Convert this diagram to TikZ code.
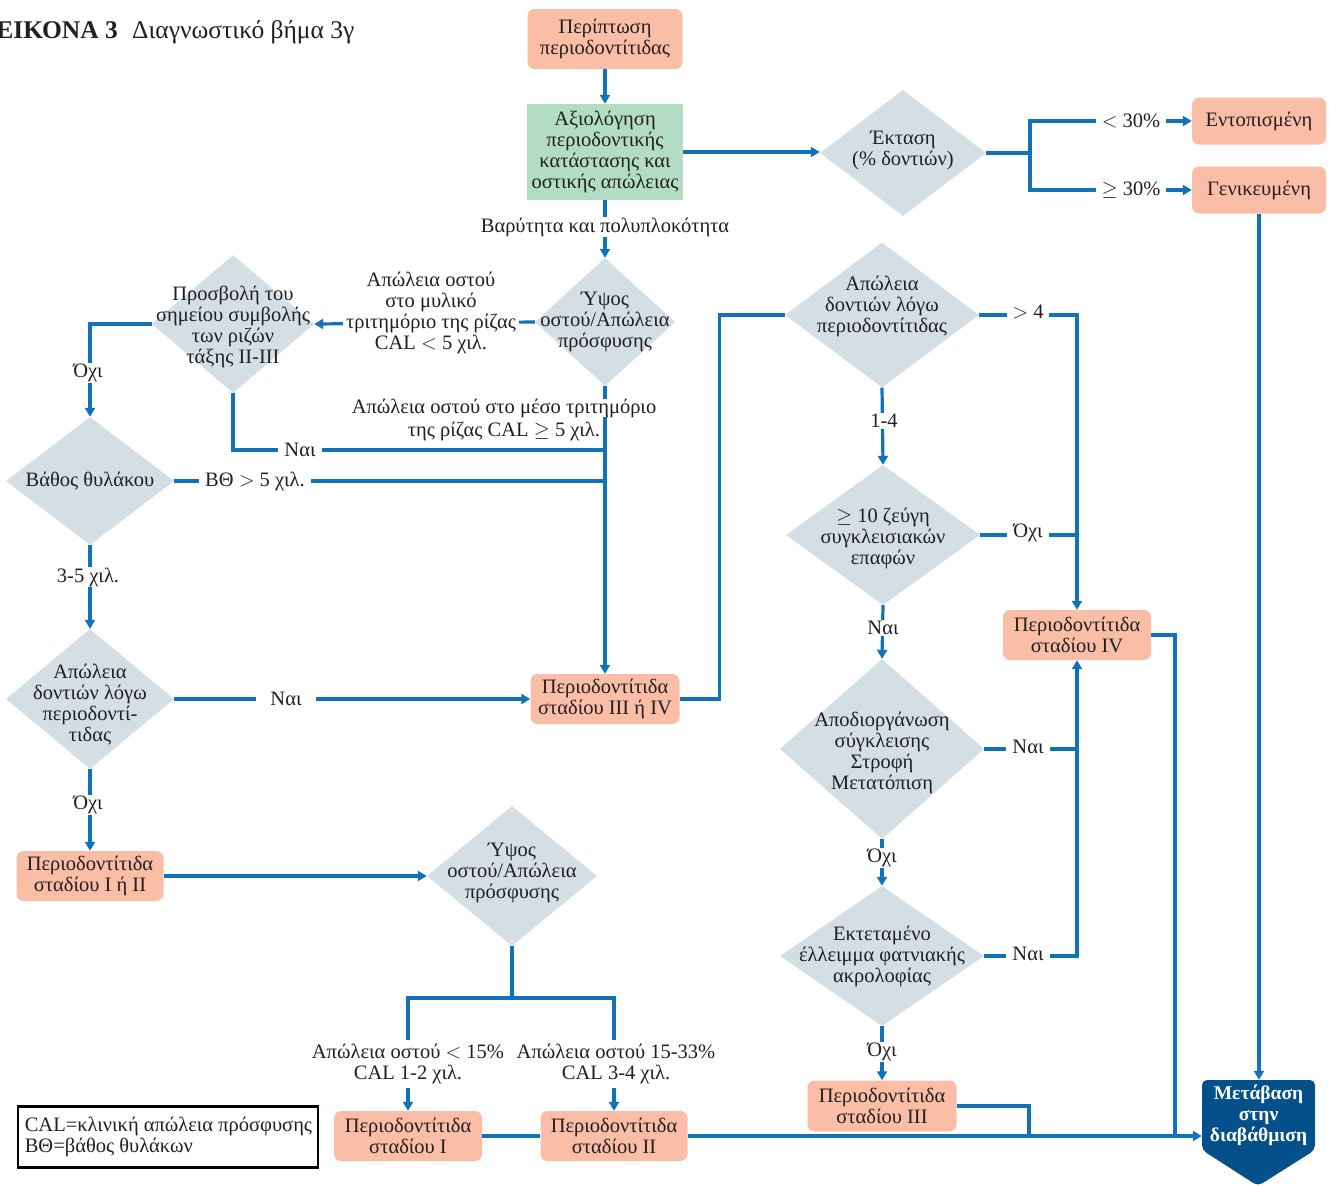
\documentclass[tikz,border=0pt]{standalone}
\usepackage{fontspec}
\setmainfont{Liberation Serif}
\usetikzlibrary{arrows.meta,shapes.geometric,calc}
\definecolor{salmon}{RGB}{249,190,165}
\definecolor{mint}{RGB}{179,221,195}
\definecolor{diagray}{RGB}{211,222,229}
\definecolor{flowblue}{RGB}{16,114,186}
\definecolor{navy}{RGB}{3,80,138}
\definecolor{ink}{RGB}{35,31,32}
\begin{document}
\begin{tikzpicture}[x=1pt,y=-1pt,
  every node/.style={font=\fontsize{20.5}{21}\selectfont, text=ink},
  stagebox/.style={fill=salmon, rounded corners=7pt, align=center, inner sep=0pt},
  assess/.style={fill=mint, align=center, inner sep=0pt},
  dia/.style={shape=diamond, fill=diagray, inner sep=0pt},
  dtext/.style={align=center, inner sep=0pt},
  lbl/.style={fill=white, inner xsep=6pt, inner ysep=1pt, align=center},
  line/.style={draw=flowblue, line width=3.2pt},
  arr/.style={line, -{Triangle[length=9pt,width=10pt]}}
]
\useasboundingbox (0,0) rectangle (1329,1186);

% title
\node[anchor=base east, inner sep=0pt, font=\fontsize{25.5}{28}\selectfont\bfseries] (ttl1) at (118,38) {ΕΙΚΟΝΑ 3};
\node[anchor=base west, inner sep=0pt, font=\fontsize{25.5}{28}\selectfont] (ttl2) at (132,38) {Διαγνωστικό βήμα 3γ};

% boxes
\node[stagebox, minimum width=155, minimum height=60] (start) at (605,39) {Περίπτωση\\περιοδοντίτιδας};
\node[assess, minimum width=156, minimum height=96] (eval) at (605,152) {Αξιολόγηση\\περιοδοντικής\\κατάστασης και\\οστικής απώλειας};
\node[stagebox, minimum width=134, minimum height=47] (loc) at (1259,121) {Εντοπισμένη};
\node[stagebox, minimum width=134, minimum height=47] (gen) at (1259,190) {Γενικευμένη};
\node[stagebox, minimum width=149, minimum height=50] (s34) at (605,699) {Περιοδοντίτιδα\\σταδίου ΙΙΙ ή ΙV};
\node[stagebox, minimum width=147, minimum height=50] (s12) at (90,876) {Περιοδοντίτιδα\\σταδίου Ι ή ΙΙ};
\node[stagebox, minimum width=148, minimum height=50] (s1) at (408,1136) {Περιοδοντίτιδα\\σταδίου Ι};
\node[stagebox, minimum width=147, minimum height=50] (s2) at (614,1136) {Περιοδοντίτιδα\\σταδίου ΙΙ};
\node[stagebox, minimum width=149, minimum height=51] (s3) at (882,1106) {Περιοδοντίτιδα\\σταδίου ΙΙΙ};
\node[stagebox, minimum width=148, minimum height=50] (s4) at (1077,635) {Περιοδοντίτιδα\\σταδίου ΙV};

% final pointer box
\fill[navy, rounded corners=5pt] (1202,1080) -- (1315,1080) -- (1315,1150) -- (1258,1186) -- (1202,1150) -- cycle;
\node[align=center, inner sep=0pt, minimum width=113, minimum height=70, text=white,
      font=\fontsize{19.5}{21}\selectfont\bfseries] (next) at (1258.5,1115) {Μετάβαση\\στην\\διαβάθμιση};

% decisions
\node[dia, minimum width=166, minimum height=126] (ext) at (903,153) {};
\node[dtext] (ext-t) at ([yshift=3pt]ext) {Έκταση\\(\% δοντιών)};
\node[dia, minimum width=140, minimum height=128] (bone1) at (605,322) {};
\node[dtext] (bone1-t) at (bone1) {Ύψος\\οστού/Απώλεια\\πρόσφυσης};
\node[dia, minimum width=162, minimum height=138] (furc) at (233,324) {};
\node[dtext] (furc-t) at ([yshift=-3pt]furc) {Προσβολή του\\σημείου συμβολής\\των ριζών\\τάξης ΙΙ-ΙΙΙ};
\node[dia, minimum width=168, minimum height=128] (depth) at (90,481) {};
\node[dtext] (depth-t) at (depth) {Βάθος θυλάκου};
\node[dia, minimum width=168, minimum height=140] (loss1) at (90,699) {};
\node[dtext] (loss1-t) at ([yshift=-6pt]loss1) {Απώλεια\\δοντιών λόγω\\περιοδοντί-\\τιδας};
\node[dia, minimum width=170, minimum height=140] (bone2) at (512,876) {};
\node[dtext] (bone2-t) at ([yshift=3pt]bone2) {Ύψος\\οστού/Απώλεια\\πρόσφυσης};
\node[dia, minimum width=194, minimum height=145] (loss2) at (882,315) {};
\node[dtext] (loss2-t) at ([yshift=9pt]loss2) {Απώλεια\\δοντιών λόγω\\περιοδοντίτιδας};
\node[dia, minimum width=194, minimum height=140] (occ) at (883,535) {};
\node[dtext] (occ-t) at ([yshift=-3pt]occ) {$\geq$ 10 ζεύγη\\συγκλεισιακών\\επαφών};
\node[dia, minimum width=204, minimum height=180] (dis) at (882,749) {};
\node[dtext] (dis-t) at ([yshift=-4pt]dis) {Αποδιοργάνωση\\σύγκλεισης\\Στροφή\\Μετατόπιση};
\node[dia, minimum width=204, minimum height=140] (ridge) at (882,956) {};
\node[dtext] (ridge-t) at (ridge) {Εκτεταμένο\\έλλειμμα φατνιακής\\ακρολοφίας};

% junction points
\coordinate (jn) at (605,450);
\coordinate (jb) at (605,481);
\coordinate (jx) at (1030,153);
\coordinate (jf) at (512,998);
\coordinate (m3) at (1029,1136);
\coordinate (m4) at (1175,1136);

% connectors: top
\draw[arr] (start) -- (eval);
\draw[arr] (eval.east) -- (eval.east -| ext.west);
\draw[line] (ext.east) -- (jx);
\draw[arr] (jx) |- (loc.west);
\draw[arr] (jx) |- (gen.west);
\node[lbl] (l30a) at (1131,121) {$<$ 30\%};
\node[lbl] (l30b) at (1131,190) {$\geq$ 30\%};
\draw[arr] (gen.south) -- (gen.south |- next.north);

% central column
\draw[arr] (eval.south) -- (bone1.north);
\node[lbl, inner xsep=2pt] (lsev) at (605,227) {Βαρύτητα και πολυπλοκότητα};
\draw[arr] (bone1.west) -- (furc.east);
\node[lbl, inner xsep=3pt] (lmol) at (431,313) {Απώλεια οστού\\στο μυλικό\\τριτημόριο της ρίζας\\CAL $<$ 5 χιλ.};
\draw[arr] (bone1.south) -- (s34.north);
\node[lbl, inner xsep=2pt, inner ysep=0pt] (lmid1) at (504,408) {Απώλεια οστού στο μέσο τριτημόριο};
\node[inner sep=0pt] (lmid2) at (504,431) {της ρίζας CAL $\geq$ 5 χιλ.};

% left column
\draw[line] (furc.south) |- (jn);
\node[lbl] (lyes1) at (300,450) {Ναι};
\draw[arr] (furc.west) -| (depth.north);
\node[lbl] (lno1) at (88,373) {Όχι};
\draw[line] (depth.east) -- (jb);
\node[lbl] (lbth) at (255,481) {ΒΘ $>$ 5 χιλ.};
\draw[arr] (depth.south) -- (loss1.north);
\node[lbl] (l35) at (88,577) {3-5 χιλ.};
\draw[arr] (loss1.east) -- (s34.west);
\node[lbl, inner xsep=14pt] (lyes2) at (286,699) {Ναι};
\draw[arr] (loss1.south) -- (s12.north);
\node[lbl] (lno2) at (88,805) {Όχι};

% stage I / II branch
\draw[arr] (s12.east) -- (bone2.west);
\draw[line] (bone2.south) -- (jf);
\draw[arr] (jf) -| (s1.north);
\draw[arr] (jf) -| (s2.north);
\node[lbl, inner xsep=2pt, inner ysep=4pt] (lb15) at (408,1064) {Απώλεια οστού $<$ 15\%\\CAL 1-2 χιλ.};
\node[lbl, inner xsep=2pt, inner ysep=4pt] (lb33) at (616,1064) {Απώλεια οστού 15-33\%\\CAL 3-4 χιλ.};
\draw[line] (s1.east) -- (s2.west);
\draw[arr] (s2.east) -- (s2.east -| next.west);

% right column
\draw[line] (s34.east) -- ++(40,0) |- (loss2.west);
\draw[arr] (loss2.east) -| (s4.north);
\node[lbl, inner xsep=5pt] (lgt4) at (1028,312) {$>$ 4};
\draw[arr] (loss2.south) -- (occ.north);
\node[lbl] (l14) at (884,421) {1-4};
\draw[line] (occ.east) -- (occ.east -| s4.north);
\node[lbl] (lno3) at (1028,533) {Όχι};
\draw[arr] (occ.south) -- (dis.north);
\node[lbl] (lyes3) at (883,628) {Ναι};
\draw[line] (dis.east) -- (dis.east -| s4.south);
\node[lbl] (lyes4) at (1028,747) {Ναι};
\draw[arr] (dis.south) -- (ridge.north);
\node[lbl] (lno4) at (882,858) {Όχι};
\draw[arr] (ridge.east) -| (s4.south);
\node[lbl] (lyes5) at (1028,954) {Ναι};
\draw[arr] (ridge.south) -- (s3.north);
\node[lbl] (lno5) at (882,1052) {Όχι};
\draw[line] (s3.east) -| (m3);
\draw[line] (s4.east) -| (m4);

% legend
\node[draw=black, line width=2.8pt, minimum width=300, minimum height=61] (legend) at (168,1137) {};
\node[anchor=west, align=left, inner sep=0pt, font=\fontsize{20.5}{21}\selectfont] (legend-t) at ([xshift=8pt]legend.west)
      {CAL=κλινική απώλεια πρόσφυσης\\ΒΘ=βάθος θυλάκων};
\end{tikzpicture}
\end{document}
